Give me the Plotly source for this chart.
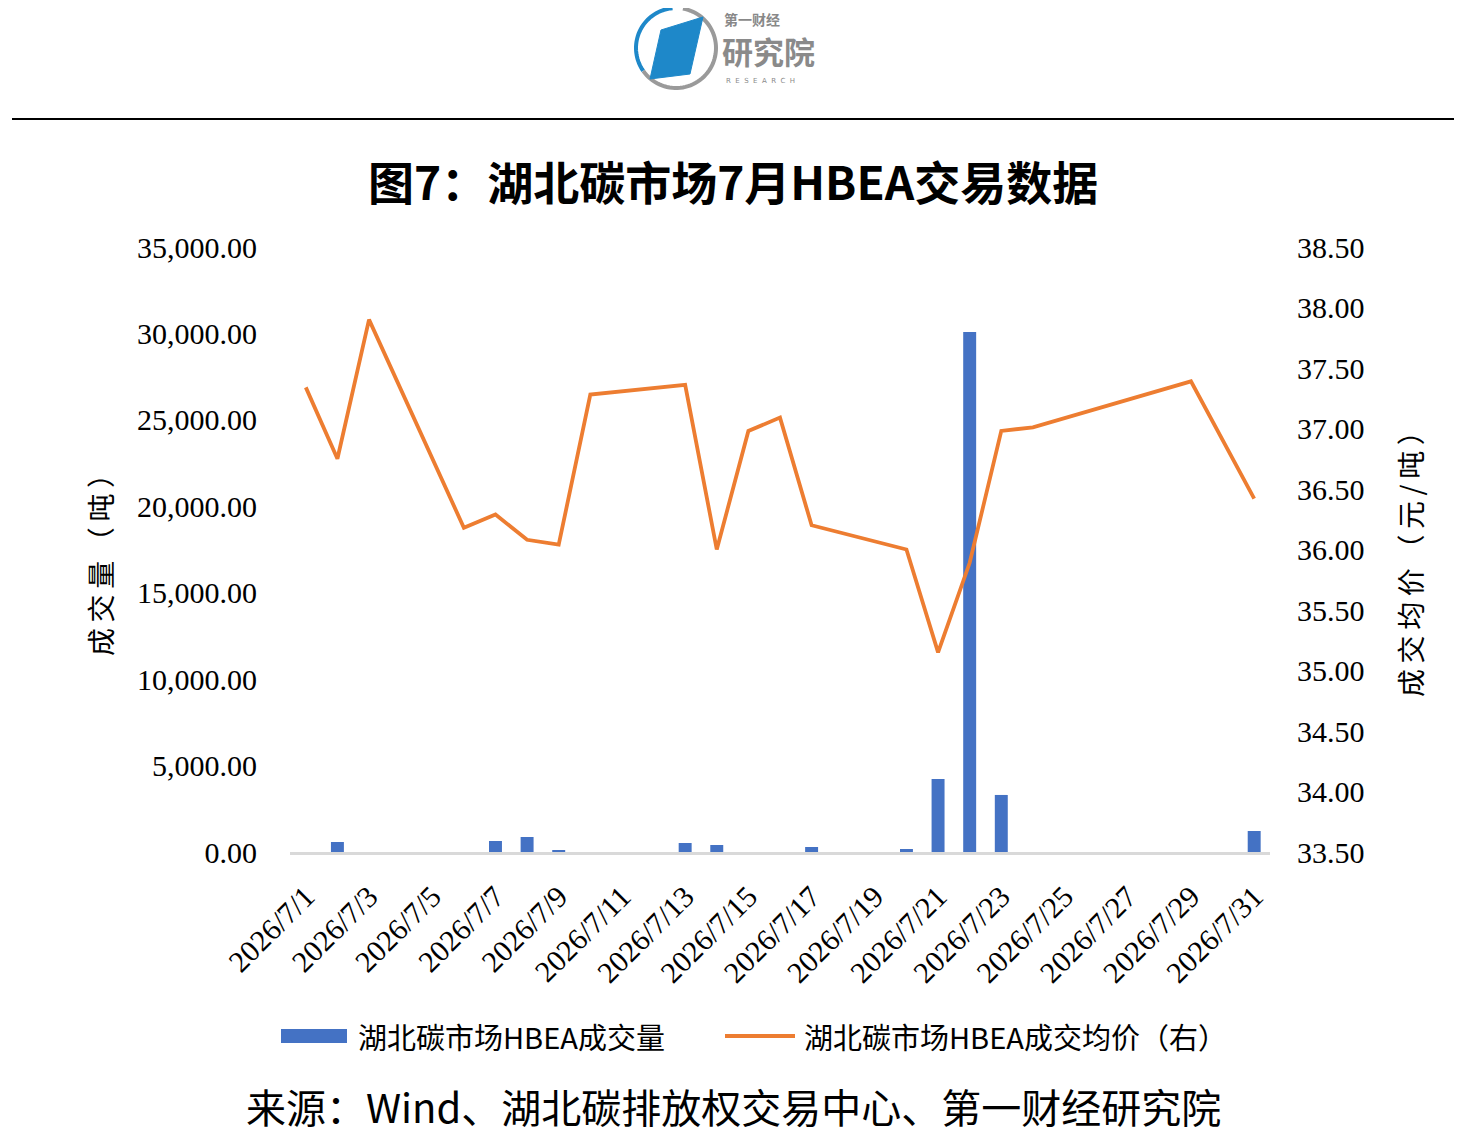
import numpy as np
import plotly.graph_objects as go

# ---------------- data ----------------
dates = ["2026/7/1", "2026/7/2", "2026/7/3", "2026/7/4", "2026/7/5", "2026/7/6", "2026/7/7",
         "2026/7/8", "2026/7/9", "2026/7/10", "2026/7/11", "2026/7/12", "2026/7/13", "2026/7/14",
         "2026/7/15", "2026/7/16", "2026/7/17", "2026/7/18", "2026/7/19", "2026/7/20", "2026/7/21",
         "2026/7/22", "2026/7/23", "2026/7/24", "2026/7/25", "2026/7/26", "2026/7/27", "2026/7/28",
         "2026/7/29", "2026/7/30", "2026/7/31"]

volume = [0, 578, 0, None, None, 0, 636,
          867, 60, 0, None, None, 520, 405,
          0, 0, 290, None, None, 175, 4220,
          30080, 3300, 0, None, None, None, None,
          0, None, 1215]

price = [37.34, 36.75, 37.90, None, None, 36.18, 36.29,
         36.08, 36.04, 37.28, None, None, 37.36, 36.00,
         36.98, 37.09, 36.20, None, None, 36.00, 35.15,
         35.89, 36.98, 37.01, None, None, None, None,
         37.39, None, 36.42]

x_tick_labels = dates[::2]
left_ticks = [0, 5000, 10000, 15000, 20000, 25000, 30000, 35000]
right_ticks = [33.5, 34.0, 34.5, 35.0, 35.5, 36.0, 36.5, 37.0, 37.5, 38.0, 38.5]

title_text = "图7：湖北碳市场7月HBEA交易数据"
left_title = "成交量（吨）"
right_title = "成交均价（元/吨）"
legend_bar = "湖北碳市场HBEA成交量"
legend_line = "湖北碳市场HBEA成交均价（右）"
source_text = "来源：Wind、湖北碳排放权交易中心、第一财经研究院"

BAR_COLOR = "#4472C4"
LINE_COLOR = "#ED7D31"
SERIF = "Liberation Serif, Times New Roman, serif"
CJK = "Noto Sans CJK SC, Liberation Serif, sans-serif"

OFF = 8                      # page body margin
W, H = 1470 - OFF, 1136 - OFF
PL, PR, PT, PB = 290, 1270, 247, 852  # plot area in reference (window) pixels


def px(x):
    return (x - PL) / (PR - PL)


def py(y):
    return (PB - y) / (PB - PT)


def spaced(s, sep="\u2009"):
    return sep.join(list(s))


fig = go.Figure()
fig.add_trace(go.Bar(x=dates, y=volume, name=legend_bar, marker_color=BAR_COLOR,
                     marker_line_width=0, yaxis="y", showlegend=False))
fig.add_trace(go.Scatter(x=dates, y=price, name=legend_line, mode="lines",
                         line=dict(color=LINE_COLOR, width=3.8), connectgaps=True,
                         yaxis="y2", showlegend=False))

shapes = []
annotations = []

# top rule
shapes.append(dict(type="line", xref="paper", yref="paper", x0=px(12), x1=px(1454),
                   y0=py(119), y1=py(119), line=dict(color="#000000", width=2)))

# logo: ring
cx, cy, r = 676, 48, 40
ang_blue = np.linspace(np.deg2rad(95), np.deg2rad(215), 40)
ang_gray = np.linspace(np.deg2rad(-145), np.deg2rad(80), 60)


def arc_path(angles):
    pts = [(cx + r * np.cos(a), cy - r * np.sin(a)) for a in angles]
    return "M " + " L ".join(f"{px(a):.5f},{py(b):.5f}" for a, b in pts)


shapes.append(dict(type="path", xref="paper", yref="paper", path=arc_path(ang_blue),
                   line=dict(color="#1E88C9", width=4)))
shapes.append(dict(type="path", xref="paper", yref="paper", path=arc_path(ang_gray),
                   line=dict(color="#9A9A9A", width=4)))
quad = [(661, 30), (703, 17), (690, 74), (650, 79)]
shapes.append(dict(type="path", xref="paper", yref="paper",
                   path="M " + " L ".join(f"{px(a):.5f},{py(b):.5f}" for a, b in quad) + " Z",
                   fillcolor="#1E88C9", line=dict(color="#1E88C9", width=1)))
annotations.append(dict(text="<b>第一财经</b>", x=px(722), y=py(19), xref="paper", yref="paper",
                        xanchor="left", yanchor="middle", showarrow=False,
                        font=dict(family=CJK, size=14, color="#888888")))
annotations.append(dict(text="<b>研究院</b>", x=px(720), y=py(50), xref="paper", yref="paper",
                        xanchor="left", yanchor="middle", showarrow=False,
                        font=dict(family=CJK, size=31, color="#8A8A8A")))
annotations.append(dict(text="R  E  S  E  A  R  C  H", x=px(724), y=py(81), xref="paper", yref="paper",
                        xanchor="left", yanchor="middle", showarrow=False,
                        font=dict(family="DejaVu Sans", size=7, color="#8A8A8A")))

# title
annotations.append(dict(text=f"<b>{title_text}</b>", x=px(733), y=py(180), xref="paper",
                        yref="paper", xanchor="center", yanchor="middle", showarrow=False,
                        font=dict(family=CJK, size=46, color="#000000")))

# axis titles
annotations.append(dict(text=spaced(left_title), x=px(100), y=py(558), xref="paper", yref="paper",
                        xanchor="center", yanchor="middle", showarrow=False, textangle=-90,
                        font=dict(family=CJK, size=28, color="#000000")))
annotations.append(dict(text=spaced(right_title), x=px(1410), y=py(557), xref="paper", yref="paper",
                        xanchor="center", yanchor="middle", showarrow=False, textangle=-90,
                        font=dict(family=CJK, size=28, color="#000000")))

# legend (manual)
shapes.append(dict(type="rect", xref="paper", yref="paper", x0=px(281), x1=px(347),
                   y0=py(1043), y1=py(1029), fillcolor=BAR_COLOR, line=dict(width=0)))
annotations.append(dict(text=legend_bar, x=px(356), y=py(1036), xref="paper", yref="paper",
                        xanchor="left", yanchor="middle", showarrow=False,
                        font=dict(family=CJK, size=29, color="#000000")))
shapes.append(dict(type="line", xref="paper", yref="paper", x0=px(725), x1=px(795),
                   y0=py(1036), y1=py(1036), line=dict(color=LINE_COLOR, width=4)))
annotations.append(dict(text=legend_line, x=px(802), y=py(1036), xref="paper", yref="paper",
                        xanchor="left", yanchor="middle", showarrow=False,
                        font=dict(family=CJK, size=29, color="#000000")))

# source
annotations.append(dict(text=source_text, x=px(733), y=py(1106), xref="paper", yref="paper",
                        xanchor="center", yanchor="middle", showarrow=False,
                        font=dict(family=CJK, size=40, color="#000000")))

fig.update_layout(
    width=W, height=H,
    margin=dict(l=PL - OFF, r=W - (PR - OFF), t=PT - OFF, b=H - (PB - OFF), pad=0),
    paper_bgcolor="white", plot_bgcolor="white",
    bargap=0.59,
    shapes=shapes, annotations=annotations,
    xaxis=dict(type="category", categoryorder="array", categoryarray=dates,
               tickmode="array", tickvals=x_tick_labels, ticktext=x_tick_labels,
               tickangle=-45, showgrid=False, zeroline=False,
               showline=True, linecolor="#D9D9D9", linewidth=3,
               ticks="", ticklabelstandoff=12,
               tickfont=dict(family=SERIF, size=30, color="#000000")),
    yaxis=dict(range=[0, 35000], tickmode="array", tickvals=left_ticks,
               tickformat=",.2f", showgrid=False, zeroline=False, showline=False,
               ticklabelstandoff=32,
               tickfont=dict(family=SERIF, size=30, color="#000000")),
    yaxis2=dict(range=[33.5, 38.5], tickmode="array", tickvals=right_ticks,
                tickformat=".2f", overlaying="y", side="right", showgrid=False,
                zeroline=False, showline=False, ticklabelstandoff=26,
                tickfont=dict(family=SERIF, size=30, color="#000000")),
    showlegend=False,
)

fig.write_html("out.html")
